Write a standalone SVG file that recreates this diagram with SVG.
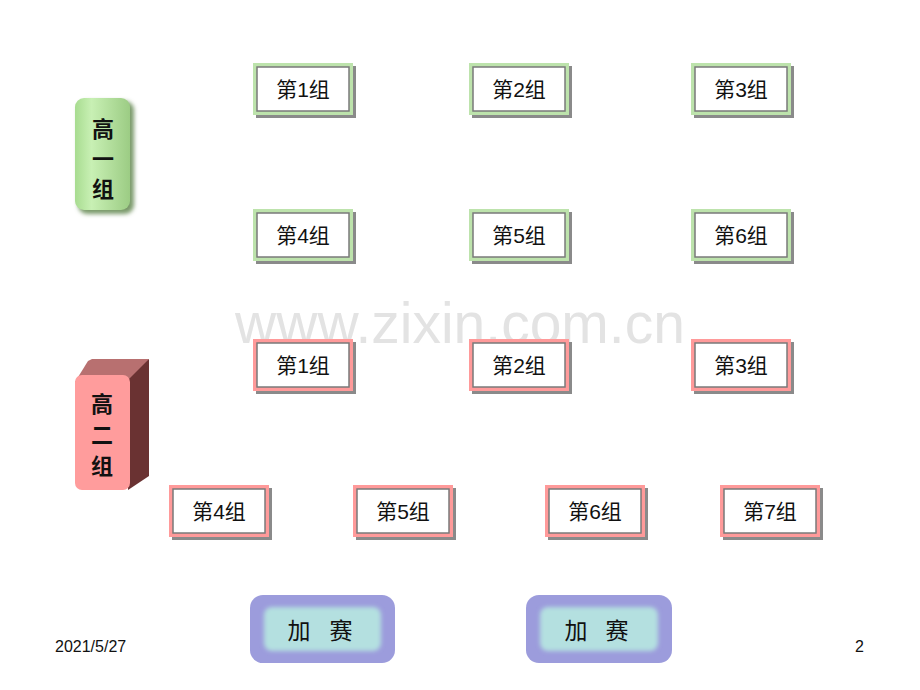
<svg xmlns="http://www.w3.org/2000/svg" width="920" height="690" viewBox="0 0 920 690">
<style>
.lbl{font-family:"Liberation Sans","Noto Sans CJK SC",sans-serif;font-size:21px;fill:#111;text-anchor:middle}
.shadow{fill:#8a8a8a}
.g{fill:#bde3ac}
.p{fill:#ff9a9a}
.inner{fill:#fff;stroke:#7a7a7a;stroke-width:1.5}
.vt{font-family:"Liberation Sans","Noto Sans CJK SC",sans-serif;font-size:22px;font-weight:bold;fill:#111;text-anchor:middle}
.btn{font-family:"Liberation Sans","Noto Sans CJK SC",sans-serif;font-size:23px;fill:#111;text-anchor:middle}
.foot{font-family:"Liberation Sans",Arial,sans-serif;font-size:16px;fill:#111}
</style>
<defs>
<linearGradient id="gg" x1="0" y1="0" x2="1" y2="0">
<stop offset="0" stop-color="#a8dc90"/>
<stop offset="0.3" stop-color="#c8f0b4"/>
<stop offset="1" stop-color="#9ccc84"/>
</linearGradient>
<filter id="blur" x="-10%" y="-10%" width="130%" height="130%"><feGaussianBlur stdDeviation="2"/></filter>
</defs>
<rect width="920" height="690" fill="#fff"/>
<text x="460" y="343" font-family="Liberation Sans,Arial,sans-serif" font-size="57" fill="#e3e3e3" text-anchor="middle">www.zixin.com.cn</text>

<g id="g-gaoyi">
<rect x="78" y="101" width="56" height="113" rx="9" fill="#7a9a6a" filter="url(#blur)"/>
<rect x="75" y="98" width="55" height="112" rx="9" fill="url(#gg)"/>
<text class="vt" x="103" y="137">高</text>
<text class="vt" x="103" y="167">一</text>
<text class="vt" x="103" y="197">组</text>
</g>

<g id="g-gaoer">
<polygon points="75,382 88,361 92,359 149,359 136,380" fill="#b87070"/>
<polygon points="128,380 149,359 149,476 128,490" fill="#6a3232"/>
<rect x="75" y="375" width="55" height="115" rx="7" fill="#ff9c9c"/>
<text class="vt" x="102" y="412">高</text>
<text class="vt" x="102" y="443">二</text>
<text class="vt" x="102" y="474">组</text>
</g>

<g id="h1-1"><rect x="256" y="66" width="100" height="52" class="shadow"/><rect x="253" y="63" width="100" height="52" class="g"/><rect x="257" y="67" width="92" height="44" class="inner"/><text class="lbl" x="303" y="97">第1组</text></g>
<g id="h1-2"><rect x="472" y="66" width="100" height="52" class="shadow"/><rect x="469" y="63" width="100" height="52" class="g"/><rect x="473" y="67" width="92" height="44" class="inner"/><text class="lbl" x="519" y="97">第2组</text></g>
<g id="h1-3"><rect x="694" y="66" width="100" height="52" class="shadow"/><rect x="691" y="63" width="100" height="52" class="g"/><rect x="695" y="67" width="92" height="44" class="inner"/><text class="lbl" x="741" y="97">第3组</text></g>
<g id="h1-4"><rect x="256" y="212" width="100" height="52" class="shadow"/><rect x="253" y="209" width="100" height="52" class="g"/><rect x="257" y="213" width="92" height="44" class="inner"/><text class="lbl" x="303" y="243">第4组</text></g>
<g id="h1-5"><rect x="472" y="212" width="100" height="52" class="shadow"/><rect x="469" y="209" width="100" height="52" class="g"/><rect x="473" y="213" width="92" height="44" class="inner"/><text class="lbl" x="519" y="243">第5组</text></g>
<g id="h1-6"><rect x="694" y="212" width="100" height="52" class="shadow"/><rect x="691" y="209" width="100" height="52" class="g"/><rect x="695" y="213" width="92" height="44" class="inner"/><text class="lbl" x="741" y="243">第6组</text></g>

<g id="h2-1"><rect x="256" y="342" width="100" height="52" class="shadow"/><rect x="253" y="339" width="100" height="52" class="p"/><rect x="257" y="343" width="92" height="44" class="inner"/><text class="lbl" x="303" y="373">第1组</text></g>
<g id="h2-2"><rect x="472" y="342" width="100" height="52" class="shadow"/><rect x="469" y="339" width="100" height="52" class="p"/><rect x="473" y="343" width="92" height="44" class="inner"/><text class="lbl" x="519" y="373">第2组</text></g>
<g id="h2-3"><rect x="694" y="342" width="100" height="52" class="shadow"/><rect x="691" y="339" width="100" height="52" class="p"/><rect x="695" y="343" width="92" height="44" class="inner"/><text class="lbl" x="741" y="373">第3组</text></g>
<g id="h2-4"><rect x="172" y="488" width="100" height="52" class="shadow"/><rect x="169" y="485" width="100" height="52" class="p"/><rect x="173" y="489" width="92" height="44" class="inner"/><text class="lbl" x="219" y="519">第4组</text></g>
<g id="h2-5"><rect x="356" y="488" width="100" height="52" class="shadow"/><rect x="353" y="485" width="100" height="52" class="p"/><rect x="357" y="489" width="92" height="44" class="inner"/><text class="lbl" x="403" y="519">第5组</text></g>
<g id="h2-6"><rect x="548" y="488" width="100" height="52" class="shadow"/><rect x="545" y="485" width="100" height="52" class="p"/><rect x="549" y="489" width="92" height="44" class="inner"/><text class="lbl" x="595" y="519">第6组</text></g>
<g id="h2-7"><rect x="723" y="488" width="100" height="52" class="shadow"/><rect x="720" y="485" width="100" height="52" class="p"/><rect x="724" y="489" width="92" height="44" class="inner"/><text class="lbl" x="770" y="519">第7组</text></g>

<g id="jiasai-1">
<rect x="250" y="595" width="145" height="68" rx="13" fill="#9c9cdc"/>
<rect x="264" y="607" width="117" height="44" rx="8" fill="#b4e0e0" filter="url(#blur)"/>
<text class="btn" x="299" y="639">加</text>
<text class="btn" x="341" y="639">赛</text>
</g>
<g id="jiasai-2">
<rect x="526" y="595" width="146" height="68" rx="13" fill="#9c9cdc"/>
<rect x="540" y="607" width="118" height="44" rx="8" fill="#b4e0e0" filter="url(#blur)"/>
<text class="btn" x="576" y="639">加</text>
<text class="btn" x="617" y="639">赛</text>
</g>

<text class="foot" x="55" y="652">2021/5/27</text>
<text class="foot" x="855" y="652">2</text>
<g id="connectors"/>
</svg>
